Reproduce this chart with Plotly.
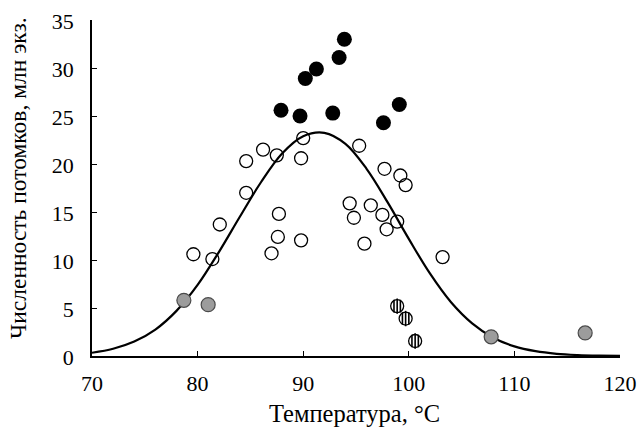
import plotly.graph_objects as go

# --- data ---
black_x = [87.9, 89.7, 90.2, 91.25, 92.8, 93.4, 93.9, 97.6, 99.1]
black_y = [25.6, 25.0, 28.9, 29.9, 25.3, 31.1, 33.0, 24.3, 26.2]

open_x = [84.6, 86.2, 87.5, 90.0, 89.8, 95.3, 84.6, 97.7, 99.2, 99.7, 87.7, 82.1, 87.6,
          89.8, 79.6, 81.4, 87.0, 94.4, 94.8, 96.4, 95.8, 97.5, 98.9, 97.9, 103.2]
open_y = [20.3, 21.5, 20.9, 22.7, 20.6, 21.9, 17.0, 19.5, 18.8, 17.8, 14.8, 13.7, 12.4,
          12.05, 10.6, 10.1, 10.7, 15.9, 14.4, 15.7, 11.7, 14.7, 14.0, 13.2, 10.3]

gray_x = [78.7, 81.0, 107.8, 116.7]
gray_y = [5.8, 5.35, 2.0, 2.4]

hatch_x = [98.9, 99.7, 100.6]
hatch_y = [5.2, 3.9, 1.56]

curve_x = [70, 72, 74, 76, 78, 80, 82, 84, 86, 88, 90, 92, 94, 96, 98, 100, 102, 104,
           106, 108, 110, 112, 114, 116, 118, 120]
curve_y = [0.34, 0.75, 1.5, 2.75, 4.7, 7.4, 10.8, 14.5, 18.1, 21.1, 22.9, 23.25, 22.1,
           19.5, 16.0, 12.2, 8.6, 5.6, 3.4, 1.9, 1.0, 0.5, 0.23, 0.1, 0.04, 0.01]

x_ticks = [70, 80, 90, 100, 110, 120]
y_ticks = [0, 5, 10, 15, 20, 25, 30, 35]

x_title = "Температура, °C"
y_title = "Численность потомков, млн экз."

# --- layout constants ---
W, H = 638, 428
ML, MR, MT, MB = 92, 18, 20, 72
PW, PH = W - ML - MR, H - MT - MB
XR = [70, 120]
FONT = "Liberation Serif"

fig = go.Figure()

fig.add_trace(go.Scatter(x=curve_x, y=curve_y, mode="lines",
                         line=dict(color="black", width=2.2, shape="spline"),
                         hoverinfo="skip", showlegend=False))

fig.add_trace(go.Scatter(x=open_x, y=open_y, mode="markers",
                         marker=dict(symbol="circle-open", size=13,
                                     color="black", line=dict(width=1.3)),
                         showlegend=False))

fig.add_trace(go.Scatter(x=black_x, y=black_y, mode="markers",
                         marker=dict(symbol="circle", size=15, color="black",
                                     line=dict(width=0)),
                         showlegend=False))

fig.add_trace(go.Scatter(x=gray_x, y=gray_y, mode="markers",
                         marker=dict(symbol="circle", size=14, color="#9c9c9c",
                                     line=dict(width=1.2, color="#4a4a4a")),
                         showlegend=False))

# hatched circles: white disc with outline, plus vertical stripes
fig.add_trace(go.Scatter(x=hatch_x, y=hatch_y, mode="markers",
                         marker=dict(symbol="circle", size=13, color="white",
                                     line=dict(width=1.3, color="black")),
                         showlegend=False))
units_per_px = (XR[1] - XR[0]) / PW
for off_px, length in [(-3.2, 9), (0, 11), (3.2, 9)]:
    fig.add_trace(go.Scatter(x=[v + off_px * units_per_px for v in hatch_x], y=hatch_y,
                             mode="markers",
                             marker=dict(symbol="line-ns", size=length,
                                         line=dict(width=1.6, color="black")),
                             hoverinfo="skip", showlegend=False))

axis_common = dict(showgrid=False, zeroline=False, showline=True, linecolor="black",
                   linewidth=1.5, ticks="inside", ticklen=5, tickwidth=1.3,
                   tickcolor="black", automargin=False,
                   tickfont=dict(family=FONT, size=22, color="black"))

fig.update_xaxes(range=XR, tickvals=x_ticks, ticktext=[str(v) for v in x_ticks],
                 ticklabelstandoff=7, **axis_common)
fig.update_yaxes(range=[0, 35], tickvals=y_ticks, ticktext=[str(v) for v in y_ticks],
                 ticklabelstandoff=12, ticklabelshift=1, **axis_common)

# axis titles as annotations, positioned as in the reference
fig.add_annotation(text=y_title, textangle=-90, showarrow=False,
                   xref="paper", yref="paper", x=(18 - ML) / PW,
                   y=(H - MB - 178) / PH, xanchor="center", yanchor="middle",
                   font=dict(family=FONT, size=23.5, color="black"))
fig.add_annotation(text=x_title, showarrow=False,
                   xref="paper", yref="paper", x=(354 - ML) / PW,
                   y=(H - MB - 413) / PH, xanchor="center", yanchor="middle",
                   font=dict(family=FONT, size=24.5, color="black"))

fig.update_layout(width=W, height=H, margin=dict(l=ML, r=MR, t=MT, b=MB, autoexpand=False),
                  plot_bgcolor="white", paper_bgcolor="white",
                  font=dict(family=FONT, color="black"))

fig.write_html("out.html")
